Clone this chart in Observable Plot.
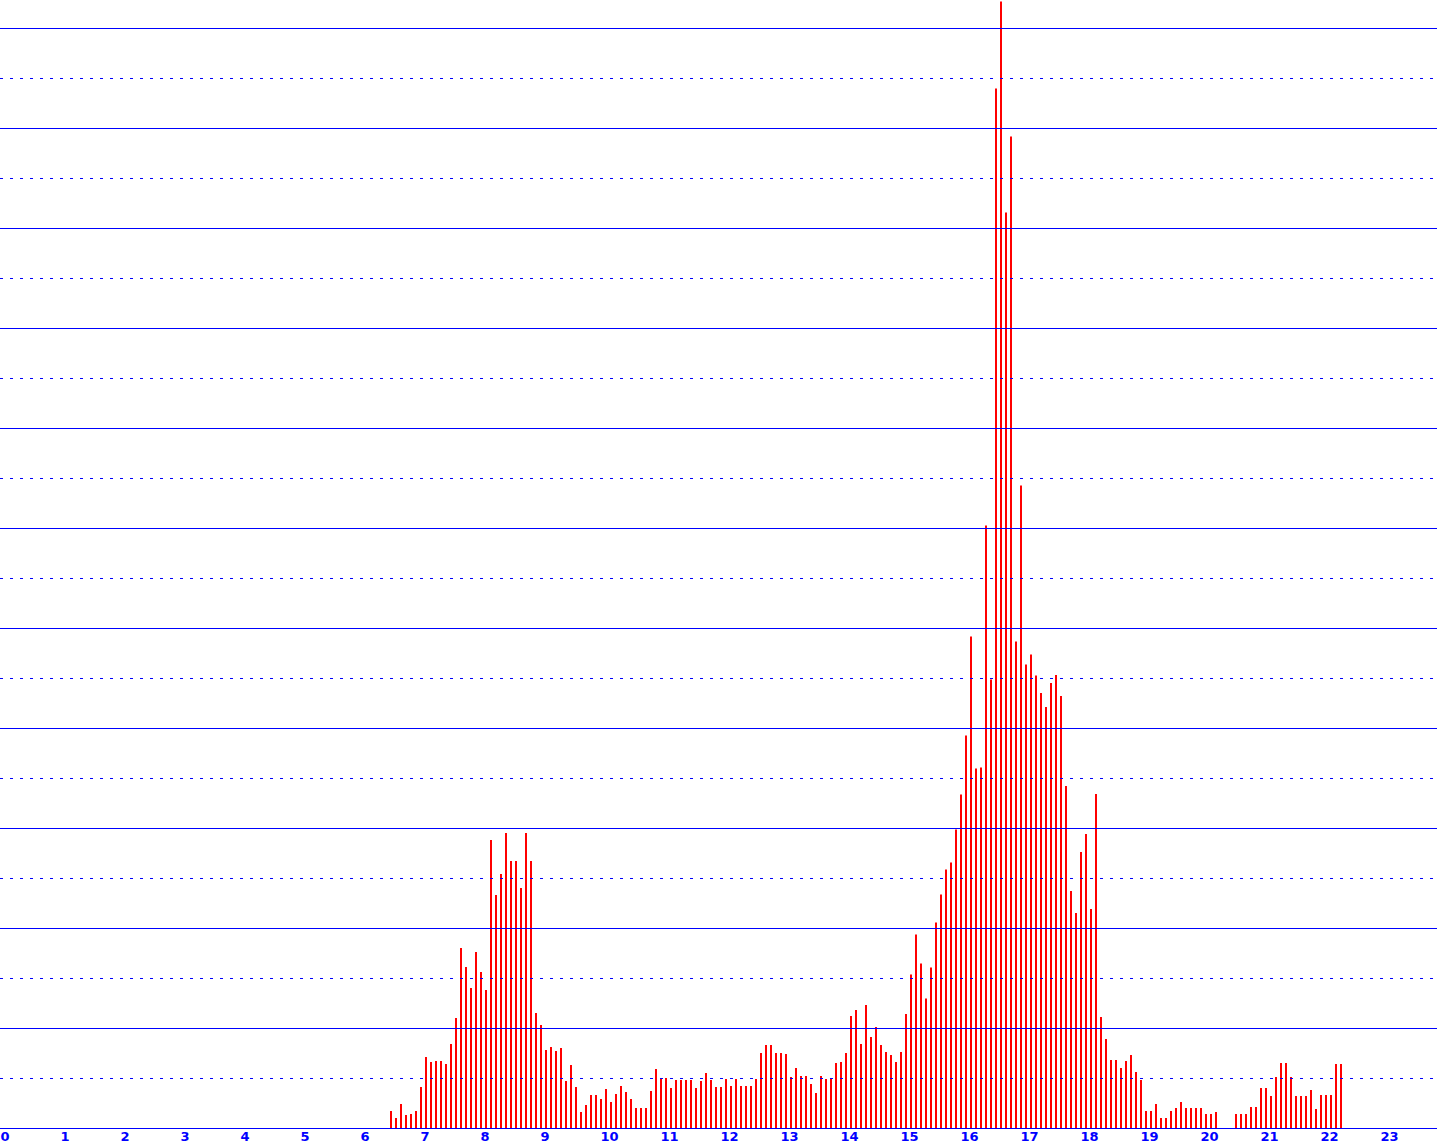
<!DOCTYPE html>
<html><head><meta charset="utf-8">
<script src="https://cdn.jsdelivr.net/npm/d3@7"></script>
<script src="https://cdn.jsdelivr.net/npm/@observablehq/plot@0.6"></script>
<style>html,body{margin:0;padding:0;background:#fff;} svg{display:block}</style>
</head><body><div id="chart"></div>
<script>
// 5-minute bins starting at 06:30
const startHour = 6.5;
const stepMinutes = 5;
const counts = [
  3.4, 2.0, 4.8, 2.6, 2.8, 3.4, 8.2, 14.2, 13.2, 13.4, 13.4, 12.8,
  16.8, 22.0, 36.0, 32.2, 28.0, 35.2, 31.2, 27.6, 57.6, 46.6, 50.8, 59.0,
  53.4, 53.4, 48.0, 59.0, 53.4, 23.0, 20.6, 15.6, 16.2, 15.4, 16.0, 9.4,
  12.6, 8.2, 3.2, 4.6, 6.6, 6.6, 5.8, 7.8, 5.2, 6.8, 8.4, 7.2,
  5.8, 4.0, 4.0, 4.0, 7.4, 11.8, 10.0, 10.0, 8.0, 9.6, 9.6, 9.6,
  9.6, 8.0, 9.4, 11.0, 9.6, 8.2, 8.2, 9.8, 8.4, 9.8, 8.4, 8.4,
  8.4, 9.8, 15.0, 16.6, 16.6, 15.0, 15.0, 14.8, 10.2, 12.0, 10.4, 10.4,
  8.8, 7.0, 10.4, 9.8, 10.0, 13.0, 13.2, 15.0, 22.4, 23.6, 16.8, 24.6,
  18.2, 20.2, 16.6, 15.2, 14.6, 13.2, 15.2, 22.8, 30.7, 38.7, 32.9, 25.9,
  32.1, 41.1, 46.7, 51.7, 53.1, 59.7, 66.7, 78.5, 98.3, 71.9, 72.1, 120.5,
  89.7, 207.9, 225.3, 183.1, 198.3, 97.3, 128.5, 92.7, 94.7, 90.5, 87.0, 84.2,
  89.0, 90.6, 86.4, 68.4, 47.4, 43.0, 55.2, 58.8, 43.8, 66.8, 22.2, 17.8,
  13.6, 13.6, 12.0, 13.4, 14.6, 11.2, 9.6, 3.4, 3.4, 4.8, 2.0, 2.0,
  3.4, 4.0, 5.2, 4.0, 4.0, 4.0, 4.0, 2.8, 2.8, 3.2, null, null,
  null, 2.8, 2.8, 2.8, 4.2, 4.2, 8.0, 8.0, 6.4, 10.2, 13.0, 13.0,
  10.2, 6.4, 6.4, 6.4, 7.6, 3.8, 6.6, 6.6, 6.6, 12.8, 12.8
];
const hourTicks = [0,1,2,3,4,5,6,7,8,9,10,11,12,13,14,15,16,17,18,19,20,21,22,23];
const solidLevels = [20,40,60,80,100,120,140,160,180,200,220];
const dottedLevels = [10,30,50,70,90,110,130,150,170,190,210];

const rows = counts
  .map((v, i) => ({t: startHour + i * stepMinutes / 60, v}))
  .filter(d => d.v != null);

const W = 1437, H = 1148, MB = 20;
const blue = "#0000ff", red = "#ff0000";

const chart = Plot.plot({
  width: W, height: H,
  marginLeft: 0, marginRight: 0, marginTop: 0, marginBottom: MB,
  x: {domain: [0, W / 60], axis: null, label: null},
  y: {domain: [0, (H - MB) / 5], axis: null, label: null},
  style: {background: "#fff", fontFamily: "DejaVu Sans", fontSize: "13px", fontWeight: "bold", color: blue},
  marks: [
    Plot.rect(rows, {x1: "t", x2: d => d.t + 2 / 60, y1: 0, y2: "v", fill: red}),
    Plot.ruleY(dottedLevels, {stroke: blue, strokeWidth: 1, strokeDasharray: "3,7"}),
    Plot.ruleY(solidLevels, {stroke: blue, strokeWidth: 1}),
    Plot.ruleY([0], {stroke: blue, strokeWidth: 1}),
    Plot.axisX(hourTicks, {tickSize: 0, tickPadding: 3, textAnchor: "start", fill: blue, fontWeight: "bold", fontSize: 13, label: null})
  ]
});
document.getElementById("chart").appendChild(chart);
</script>
</body></html>
